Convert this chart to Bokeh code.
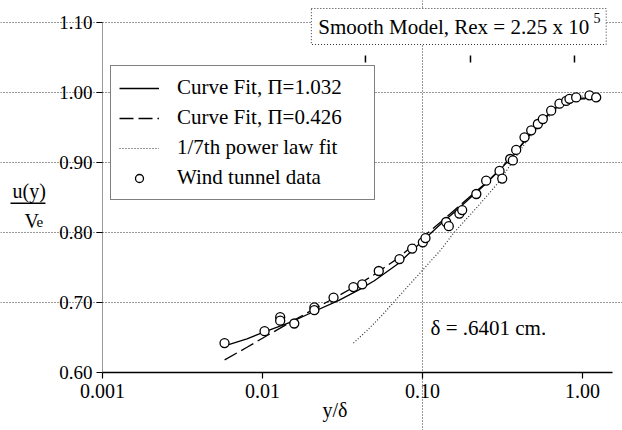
from bokeh.plotting import figure
from bokeh.models import (FixedTicker, Label, Legend, LegendItem, BoxAnnotation, Range1d,
                          LogAxis, LinearAxis)
from bokeh.embed import file_html
from bokeh.resources import INLINE

# ---------------- data ----------------
tunnel_x = [0.00579, 0.0103, 0.0129, 0.0129, 0.0158, 0.0211, 0.0211, 0.0278, 0.0370,
            0.0420, 0.0533, 0.0718, 0.0862, 0.1005, 0.1044, 0.1406, 0.146, 0.170,
            0.177, 0.217, 0.250, 0.303, 0.315, 0.353, 0.367, 0.385, 0.434, 0.478,
            0.526, 0.565, 0.637, 0.718, 0.791, 0.829, 0.913, 1.106, 1.218]
tunnel_y = [0.642, 0.659, 0.679, 0.674, 0.670, 0.693, 0.689, 0.707, 0.722,
            0.726, 0.745, 0.762, 0.777, 0.786, 0.792, 0.815, 0.809, 0.827,
            0.832, 0.855, 0.874, 0.888, 0.877, 0.905, 0.903, 0.918, 0.936, 0.946,
            0.955, 0.962, 0.974, 0.984, 0.988, 0.991, 0.993, 0.996, 0.993]

fit1_x = [0.0058, 0.008, 0.01, 0.015, 0.02, 0.03, 0.04, 0.05, 0.07, 0.1, 0.13, 0.16,
          0.2, 0.25, 0.3, 0.37, 0.45, 0.55, 0.65, 0.75, 0.85, 1.0, 1.25]
fit1_y = [0.638, 0.648, 0.657, 0.672, 0.685, 0.703, 0.718, 0.731, 0.755, 0.788, 0.812, 0.830,
          0.850, 0.870, 0.888, 0.910, 0.935, 0.958, 0.975, 0.985, 0.990, 0.992, 0.992]

fit2_x = [0.0058, 0.008, 0.01, 0.015, 0.02, 0.03, 0.04, 0.05, 0.07, 0.1, 0.13, 0.16,
          0.2, 0.25, 0.3, 0.37, 0.45, 0.55, 0.65, 0.75, 0.85, 1.0, 1.25]
fit2_y = [0.618, 0.636, 0.649, 0.672, 0.688, 0.710, 0.726, 0.740, 0.763, 0.793, 0.815, 0.833,
          0.852, 0.871, 0.889, 0.911, 0.935, 0.957, 0.974, 0.984, 0.989, 0.991, 0.991]

power_x = [0.037, 0.045, 0.055, 0.072, 0.1, 0.13, 0.155, 0.2, 0.227, 0.3, 0.35, 0.445,
           0.55, 0.7, 0.85, 1.0]
power_y = [0.642, 0.660, 0.680, 0.710, 0.746, 0.775, 0.798, 0.826, 0.840, 0.872, 0.895, 0.930,
           0.955, 0.978, 0.990, 0.995]

x_ticks = [0.001, 0.01, 0.1, 1.0]
x_tick_labels = ["0.001", "0.01", "0.10", "1.00"]
y_ticks = [0.6, 0.7, 0.8, 0.9, 1.0, 1.1]
y_tick_labels = ["0.60", "0.70", "0.80", "0.90", "1.00", "1.10"]

top_mark_x = [0.044, 0.1995, 0.891]

series_names = ["Curve Fit, \u03a0=1.032", "Curve Fit, \u03a0=0.426",
                "1/7th power law fit", "Wind tunnel data"]
title_text = "Smooth Model, Rex = 2.25 x 10"
title_exp = "5"
delta_text = "\u03b4 = .6401 cm."

FONT = "Liberation Serif"

# plot area: x 0.001..1.54 (log), y 0.60..1.10; the frame spans the whole canvas
X0, X1 = 0.001, 1.54
Y0, Y1 = 0.6, 1.1
PX_DEC = 160.0     # pixels per decade
PX_Y = 700.0       # pixels per unit of u/Ve
p = figure(width=622, height=430, x_axis_type="log",
           x_range=Range1d(10 ** (-3 - 102 / PX_DEC), 10 ** (-3 + 520 / PX_DEC)),
           y_range=Range1d(Y0 - 58 / PX_Y, Y1 + 22 / PX_Y),
           x_axis_location=None, y_axis_location=None,
           output_backend="svg", toolbar_location=None,
           min_border=0)
p.title.visible = False
p.outline_line_color = None
p.background_fill_color = "white"
p.border_fill_color = "white"

# grids
p.xgrid.ticker = FixedTicker(ticks=[0.1])
p.xgrid.bounds = (Y0, Y1)
p.ygrid.ticker = FixedTicker(ticks=y_ticks[1:])
p.ygrid.bounds = (X0, X1)
for g in (p.xgrid, p.ygrid):
    g.grid_line_color = "#333333"
    g.grid_line_dash = "1 2"
    g.grid_line_width = 1

# axes (drawn at fixed data locations)
xaxis = LogAxis(fixed_location=Y0, bounds=(X0, X1), ticker=FixedTicker(ticks=x_ticks),
                major_label_overrides={v: s for v, s in zip(x_ticks, x_tick_labels)})
yaxis = LinearAxis(fixed_location=X0, bounds=(Y0, Y1), ticker=FixedTicker(ticks=y_ticks),
                   major_label_overrides={v: s for v, s in zip(y_ticks, y_tick_labels)})
for ax in (xaxis, yaxis):
    ax.major_tick_out = 6
    ax.major_tick_in = 0
    ax.minor_tick_line_color = None
    ax.major_tick_line_color = "black"
    ax.major_tick_line_width = 1.2
    ax.major_label_text_font = FONT
    ax.major_label_text_color = "black"
xaxis.major_label_text_font_size = "20px"
yaxis.major_label_text_font_size = "19px"
xaxis.axis_line_color = "black"
xaxis.axis_line_width = 1.5
yaxis.axis_line_color = "#333333"
yaxis.axis_line_dash = "1 1"
yaxis.axis_line_width = 1
xaxis.major_label_standoff = 5
yaxis.major_label_standoff = 4
p.add_layout(xaxis, "below")
p.add_layout(yaxis, "left")

# glyphs
r1 = p.line(fit1_x, fit1_y, line_color="black", line_width=1.3)
r2 = p.line(fit2_x, fit2_y, line_color="black", line_width=1.3, line_dash="14 5")
r3 = p.line(power_x, power_y, line_color="#333333", line_width=1.2, line_dash="1 2")
r4 = p.scatter(tunnel_x, tunnel_y, marker="circle", size=9, line_color="black",
               fill_color="white", line_width=1.3)

p.segment(x0=top_mark_x, y0=[1.043] * 3, x1=top_mark_x, y1=[1.053] * 3,
          line_color="black", line_width=1.5)

legend = Legend(items=[LegendItem(label=series_names[0], renderers=[r1]),
                       LegendItem(label=series_names[1], renderers=[r2]),
                       LegendItem(label=series_names[2], renderers=[r3]),
                       LegendItem(label=series_names[3], renderers=[r4])],
                location=(110, 230), orientation="vertical",
                label_text_font=FONT, label_text_font_size="21px",
                label_text_color="black",
                glyph_width=40, glyph_height=20, label_standoff=18,
                label_width=189, label_height=27, spacing=3, padding=8, margin=0,
                border_line_color="black", border_line_width=1.5,
                background_fill_color="white", background_fill_alpha=1.0)
p.add_layout(legend)

# title box
title = Label(x=0.0202, y=1.12, text=title_text, text_font=FONT, text_font_size="21px",
              text_color="black", text_align="left", text_baseline="top",
              background_fill_color="white", border_line_color="#333333",
              border_line_dash="1 2", border_line_width=1,
              padding=dict(left=7, right=17, top=6, bottom=6))
p.add_layout(title)
p.add_layout(Label(x=1.1715, y=1.1129, text=title_exp, text_font=FONT, text_font_size="14px",
                   text_color="black", text_align="left", text_baseline="top"))

# annotation
p.add_layout(Label(x=0.1122, y=0.6629, text=delta_text, text_font=FONT, text_font_size="21px",
                   text_color="black", text_align="left", text_baseline="middle"))

# axis titles
p.add_layout(Label(x=0.0237, y=0.5471, text="y/\u03b4", text_font=FONT, text_font_size="20px",
                   text_color="black", text_align="left", text_baseline="middle"))
p.add_layout(Label(x=0.000274, y=0.8586, text="u(y)", text_font=FONT, text_font_size="20px",
                   text_color="black", text_align="left", text_baseline="middle"))
p.add_layout(Label(x=0.000325, y=0.8171, text="V", text_font=FONT, text_font_size="20px",
                   text_color="black", text_align="left", text_baseline="middle"))
p.add_layout(Label(x=0.000387, y=0.8143, text="e", text_font=FONT, text_font_size="15px",
                   text_color="black", text_align="left", text_baseline="middle"))
p.add_layout(BoxAnnotation(left=0.000266, right=0.000440, bottom=0.8407, top=0.8428,
                           fill_color="black", fill_alpha=1.0, line_color=None))

open("out.html", "w").write(file_html(p, INLINE))
